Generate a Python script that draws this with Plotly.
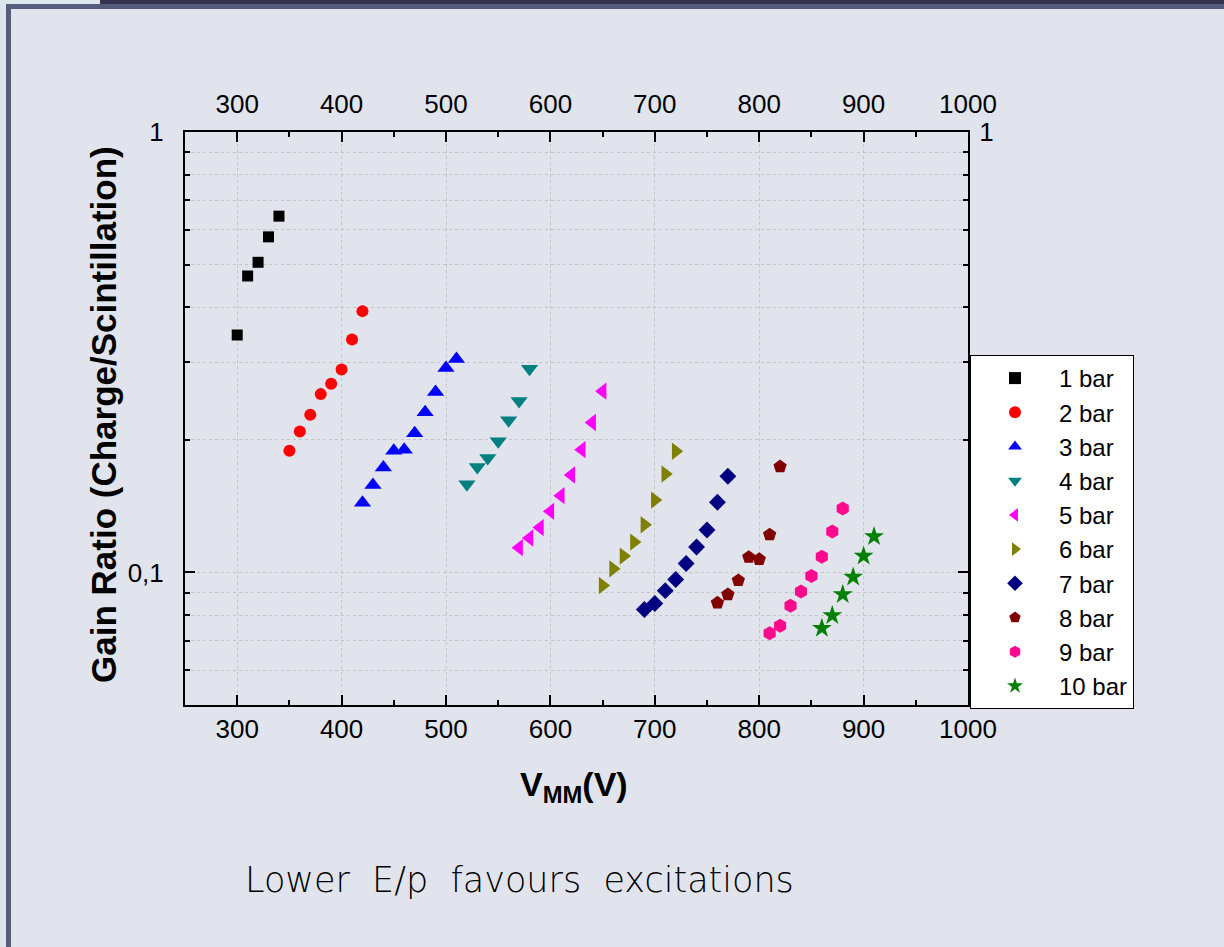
import plotly.graph_objects as go
import numpy as np

# ---------------- data ----------------
series_names = ["1 bar", "2 bar", "3 bar", "4 bar", "5 bar",
                "6 bar", "7 bar", "8 bar", "9 bar", "10 bar"]

v1 = [300, 310, 320, 330, 340]
r1 = [0.346, 0.471, 0.506, 0.578, 0.644]

v2 = [350, 360, 370, 380, 390, 400, 410, 420]
r2 = [0.189, 0.209, 0.228, 0.254, 0.268, 0.289, 0.338, 0.392]

v3 = [420, 430, 440, 450, 460, 470, 480, 490, 500, 510]
r3 = [0.144, 0.158, 0.173, 0.189, 0.190, 0.207, 0.231, 0.257, 0.291, 0.305]

v4 = [520, 530, 540, 550, 560, 570, 580]
r4 = [0.1585, 0.1735, 0.182, 0.1985, 0.2216, 0.245, 0.290]

v5 = [570, 580, 590, 600, 610, 620, 630, 640, 650]
r5 = [0.1138, 0.1197, 0.1264, 0.1376, 0.1494, 0.1664, 0.190, 0.219, 0.258]

v6 = [650, 660, 670, 680, 690, 700, 710, 720]
r6 = [0.0934, 0.1019, 0.1089, 0.1172, 0.1283, 0.146, 0.1673, 0.1884]

v7 = [690, 700, 710, 720, 730, 740, 750, 760, 770]
r7 = [0.0824, 0.0850, 0.0909, 0.0964, 0.1048, 0.1142, 0.1248, 0.1443, 0.1653]

v8 = [760, 770, 780, 790, 800, 810, 820]
r8 = [0.0853, 0.0891, 0.0959, 0.1083, 0.1071, 0.1218, 0.1739]

v9 = [810, 820, 830, 840, 850, 860, 870, 880]
r9 = [0.0728, 0.0757, 0.0840, 0.0905, 0.0981, 0.1086, 0.1238, 0.1396]

v10 = [860, 870, 880, 890, 900, 910]
r10 = [0.0747, 0.0798, 0.0891, 0.0976, 0.1089, 0.1207]

x_ticks = [300, 400, 500, 600, 700, 800, 900, 1000]
x_minor = [350, 450, 550, 650, 750, 850, 950]
y_major = [0.1, 1]
y_major_text = ["0,1", "1"]
y_minor = [0.05, 0.06, 0.07, 0.08, 0.09, 0.2, 0.3, 0.4, 0.5, 0.6, 0.7, 0.8, 0.9]

# ---------------- styles ----------------
symbols = ["square", "circle", "triangle-up", "triangle-down", "triangle-left",
           "triangle-right", "diamond", "pentagon", "hexagon", "star"]
colors = ["#000000", "#ff0000", "#0000ff", "#008080", "#ff00ff",
          "#808000", "#000080", "#800000", "#ff0a8c", "#008000"]
sizes = [11, 12, 15, 15, 15, 15, 13, 14, 14, 15]

xs = [v1, v2, v3, v4, v5, v6, v7, v8, v9, v10]
ys = [r1, r2, r3, r4, r5, r6, r7, r8, r9, r10]

W, H = 1224, 947
L, R, T, B = 185, 968, 132, 705  # plot area in pixels

def px(x):
    return (x - L) / (R - L)

def py(y):
    return (B - y) / (B - T)

REG = "Liberation Sans, Arial, sans-serif"

fig = go.Figure()
for name, x, y, s, c, sz in zip(series_names, xs, ys, symbols, colors, sizes):
    fig.add_trace(go.Scatter(x=x, y=y, mode="markers", name=name,
                             marker=dict(symbol=s, color=c, size=sz,
                                         line=dict(width=0))))

# empty trace to create the mirrored top/right axes
fig.add_trace(go.Scatter(x=[], y=[], xaxis="x2", yaxis="y2", showlegend=False,
                         hoverinfo="skip"))

tickfont = dict(family=REG, size=26, color="black")
ylo, yhi = np.log10(0.05), 0.0
grid = "#c4c4c4"

fig.update_layout(
    width=W, height=H,
    margin=dict(l=L, r=W - R, t=T, b=H - B),
    paper_bgcolor="#e1e4ec",
    plot_bgcolor="rgba(0,0,0,0)",
    showlegend=True,
    legend=dict(x=px(970), y=py(355), xanchor="left", yanchor="top",
                bgcolor="white", bordercolor="black", borderwidth=1,
                font=dict(family=REG, size=24, color="black"),
                itemsizing="constant", tracegroupgap=0, itemwidth=78),
    xaxis=dict(range=[250, 1000], tickvals=x_ticks, ticks="inside", ticklen=10,
               tickwidth=1.5, tickcolor="black", showline=True, linecolor="black",
               linewidth=2, showgrid=True, gridcolor=grid, griddash="dot",
               gridwidth=1, zeroline=False, tickfont=tickfont, ticklabelstandoff=0,
               minor=dict(tickvals=x_minor, ticks="inside", ticklen=5,
                          tickwidth=1.5, tickcolor="black", showgrid=False)),
    xaxis2=dict(range=[250, 1000], overlaying="x", side="top", anchor="y",
                tickvals=x_ticks, ticks="inside", ticklen=10, tickwidth=1.5,
                tickcolor="black", showline=True, linecolor="black", linewidth=2,
                showgrid=False, zeroline=False, tickfont=tickfont, ticklabelstandoff=7,
                minor=dict(tickvals=x_minor, ticks="inside", ticklen=5,
                           tickwidth=1.5, tickcolor="black", showgrid=False)),
    yaxis=dict(type="log", range=[ylo, yhi], tickvals=y_major, ticktext=y_major_text,
               ticks="inside", ticklen=10, tickwidth=1.5, tickcolor="black",
               showline=True, linecolor="black", linewidth=2, showgrid=True,
               gridcolor=grid, griddash="dot", gridwidth=1, zeroline=False,
               tickfont=tickfont, ticklabelstandoff=14,
               minor=dict(tickvals=y_minor, ticks="inside", ticklen=5, tickwidth=1.5,
                          tickcolor="black", showgrid=True, gridcolor=grid,
                          griddash="dot", gridwidth=1)),
    yaxis2=dict(type="log", range=[ylo, yhi], overlaying="y", side="right", anchor="x",
                tickvals=y_major, ticktext=[" ", "1"], ticks="inside", ticklen=10,
                tickwidth=1.5, tickcolor="black", showline=True, linecolor="black",
                linewidth=2, showgrid=False, zeroline=False, tickfont=tickfont,
                ticklabelstandoff=4,
                minor=dict(tickvals=y_minor, ticks="inside", ticklen=5, tickwidth=1.5,
                           tickcolor="black", showgrid=False)),
)

# axis titles and caption
fig.add_annotation(text="<b>Gain Ratio (Charge/Scintillation)</b>", textangle=-90,
                   xref="paper", yref="paper", x=px(104), y=py(415),
                   showarrow=False, xanchor="center", yanchor="middle",
                   font=dict(family=REG, size=35, color="black"))
fig.add_annotation(text="<b>V<sub>MM</sub>(V)</b>",
                   xref="paper", yref="paper", x=px(574), y=py(786),
                   showarrow=False, xanchor="center", yanchor="middle",
                   font=dict(family=REG, size=34, color="black"))
fig.add_annotation(text="Lower  E/p  favours  excitations",
                   xref="paper", yref="paper", x=px(519), y=py(880),
                   showarrow=False, xanchor="center", yanchor="middle",
                   font=dict(family="DejaVu Sans", size=35, color="#000000", weight=200))

# slide frame decoration
frame = [
    (0, 0, 6, H, "#dde6ec"),
    (0, 0, W, 4, "#dde6ec"),
    (100, 0, W, 4, "#33334d"),
    (6, 4, 11, H, "#565c7c"),
    (6, 4, W, 9, "#565c7c"),
]
for x0, y0, x1, y1, col in frame:
    fig.add_shape(type="rect", xref="paper", yref="paper",
                  x0=px(x0), x1=px(x1), y0=py(y0), y1=py(y1),
                  fillcolor=col, line=dict(width=0), layer="below")

fig.write_html("out.html",
               config={"displayModeBar": False},
               post_script="document.body.style.margin='0';"
                           "document.body.style.overflow='hidden';"
                           "document.body.style.background='#e1e4ec';")
